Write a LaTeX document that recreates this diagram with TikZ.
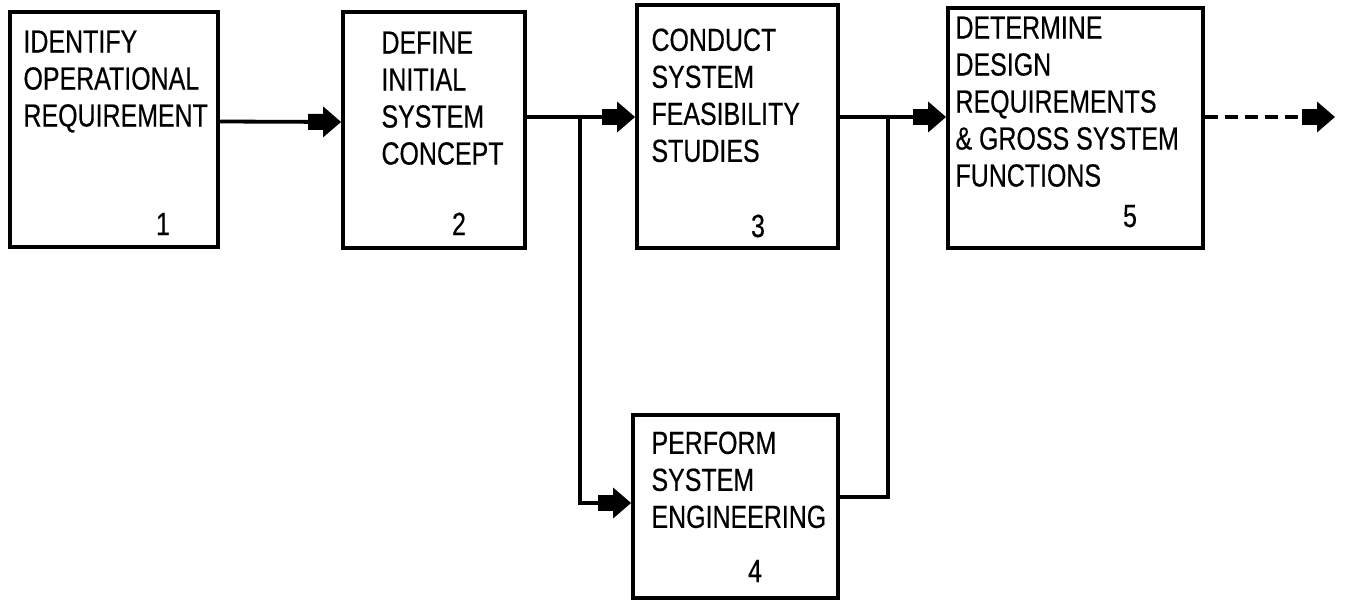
\documentclass[tikz,border=0pt]{standalone}
\usepackage{fontspec}
\setmainfont{Liberation Sans}[FakeStretch=0.78, FakeBold=0.4]
\usetikzlibrary{arrows.meta, positioning, calc}
\tikzset{
  block/.style={rectangle, draw=black, line width=1.9pt, inner sep=0pt},
  caption/.style={anchor=north west, align=left, inner sep=0pt,
                  font=\fontsize{16}{18.5}\selectfont},
  stepno/.style={anchor=base, inner sep=0pt, font=\fontsize{16}{18.5}\selectfont},
  wire/.style={line width=1.9pt, draw=black},
  arrow/.style={wire, -{Rectangle[length=7.5pt,width=8pt,sep=0pt]
                        Triangle[length=9pt,width=15pt]}},
}

\begin{document}
\begin{tikzpicture}[x=0.5pt, y=-0.5pt]
  \useasboundingbox (0,0) rectangle (1345,600);

  % boxes
  \node[block, minimum width=104pt,   minimum height=117.5pt] (b1) at (114,129.5)   {};
  \node[block, minimum width=91pt,    minimum height=118pt]   (b2) at (434,130)     {};
  \node[block, minimum width=100.5pt, minimum height=121.5pt] (b3) at (737.5,126.5) {};
  \node[block, minimum width=102.5pt, minimum height=91.5pt]  (b4) at (735.5,506.5) {};
  \node[block, minimum width=127.5pt, minimum height=120pt]   (b5) at (1075.5,128)  {};

  % box texts
  \node[caption] (t1) at ([shift={(15,20)}]b1.north west) {IDENTIFY\\OPERATIONAL\\REQUIREMENT};
  \node[caption] (t2) at ([shift={(40,21)}]b2.north west) {DEFINE\\INITIAL\\SYSTEM\\CONCEPT};
  \node[caption] (t3) at ([shift={(16,25)}]b3.north west) {CONDUCT\\SYSTEM\\FEASIBILITY\\STUDIES};
  \node[caption] (t4) at ([shift={(20,18)}]b4.north west) {PERFORM\\SYSTEM\\ENGINEERING};
  \node[caption] (t5) at ([shift={(9,10)}]b5.north west)  {DETERMINE\\DESIGN\\REQUIREMENTS\\\& GROSS SYSTEM\\FUNCTIONS};

  % step numbers
  \node[stepno] (n1) at (163,235)  {1};
  \node[stepno] (n2) at (459,235)  {2};
  \node[stepno] (n3) at (758,237)  {3};
  \node[stepno] (n4) at (755,582)  {4};
  \node[stepno] (n5) at (1130,227) {5};

  % junctions
  \coordinate (j23)  at (580,117);
  \coordinate (j45)  at (888,117);
  \coordinate (out5) at (1335,117);

  % connectors
  \draw[arrow] ([yshift=4pt]b1.east) -- ([yshift=4pt]b2.west);
  \draw[arrow] (b2.east |- j23) -- (b3.west |- j23);
  \draw[arrow] (j23) |- ([yshift=1.75pt]b4.west);
  \draw[arrow] (b3.east |- j45) -- (b5.west |- j45);
  \draw[wire]  ([yshift=4.75pt]b4.east) -| (j45);
  \draw[arrow, dash pattern=on 6.5pt off 3.5pt] (b5.east |- out5) -- (out5);

\end{tikzpicture}
\end{document}
